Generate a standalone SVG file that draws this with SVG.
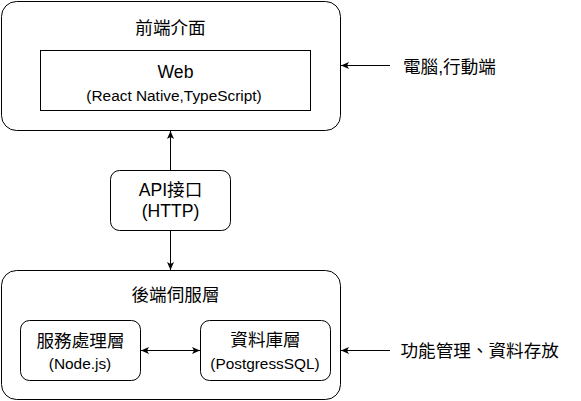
<svg xmlns="http://www.w3.org/2000/svg" width="581" height="401" viewBox="0 0 581 401">
<style>
.box{fill:#fff;stroke:#000;stroke-width:1}
.t{font-family:"Liberation Sans","Noto Sans CJK TC",sans-serif;fill:#000;text-anchor:middle}
.l{font-size:17.6px}
.s{font-size:15.4px}
.st{text-anchor:start}
.c{fill:none;stroke:#000;stroke-width:1}
</style>
<defs>
<marker id="ah" viewBox="0 0 10 8" refX="9" refY="4" markerWidth="10" markerHeight="8" markerUnits="userSpaceOnUse" orient="auto-start-reverse">
<path d="M1,0.5 L9,4 L1,7.5 L3,4 Z" fill="#000"/>
</marker>
</defs>
<rect width="581" height="401" fill="#fff"/>
<g id="frontend">
<rect class="box" x="1.5" y="1.5" width="339" height="129" rx="15"/>
<text class="t l" x="170.5" y="33.5">前端介面</text>
</g>
<g id="web">
<rect class="box" x="40.5" y="50.5" width="270" height="60"/>
<text class="t l" x="175.5" y="78">Web</text>
<text class="t s" x="174" y="100.5">(React Native,TypeScript)</text>
</g>
<g id="clients">
<text class="t l st" x="403" y="72.5">電腦,行動端</text>
</g>
<g id="api">
<rect class="box" x="110.5" y="170.5" width="120" height="60" rx="9"/>
<text class="t l" x="170.5" y="196">API接口</text>
<text class="t l" x="170.5" y="217">(HTTP)</text>
</g>
<g id="backend">
<rect class="box" x="1.5" y="270.5" width="339" height="129" rx="15"/>
<text class="t l" x="175.5" y="301">後端伺服層</text>
</g>
<g id="service">
<rect class="box" x="20.5" y="320.5" width="120" height="60" rx="9"/>
<text class="t l" x="80.5" y="346.7">服務處理層</text>
<text class="t s" x="80" y="369">(Node.js)</text>
</g>
<g id="database">
<rect class="box" x="200.5" y="320.5" width="130" height="60" rx="9"/>
<text class="t l" x="265.5" y="346">資料庫層</text>
<text class="t s" x="265" y="369.3">(PostgressSQL)</text>
</g>
<g id="functions">
<text class="t l st" x="400.5" y="356.7">功能管理、資料存放</text>
</g>
<g id="connectors">
<path class="c" d="M170.5,170 L170.5,131" marker-end="url(#ah)"/>
<path class="c" d="M170.5,231 L170.5,270" marker-end="url(#ah)"/>
<path class="c" d="M141,350.5 L200,350.5" marker-start="url(#ah)" marker-end="url(#ah)"/>
<path class="c" d="M390,65.5 L341,65.5" marker-end="url(#ah)"/>
<path class="c" d="M390,350.5 L341,350.5" marker-end="url(#ah)"/>
</g>
</svg>
